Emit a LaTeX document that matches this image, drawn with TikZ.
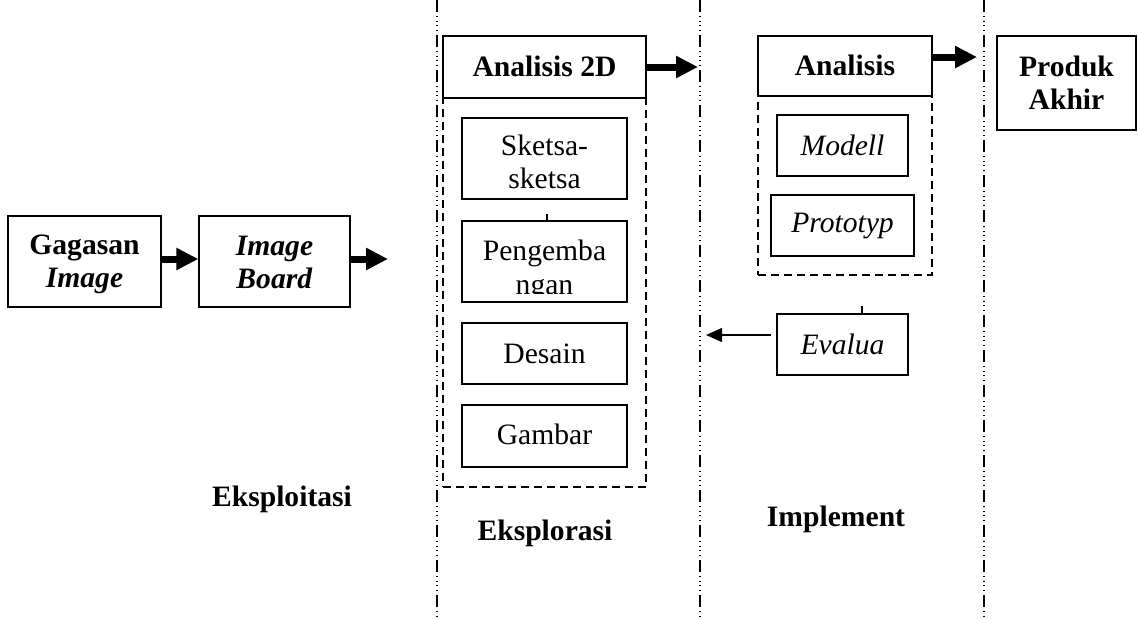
\documentclass[tikz,border=0pt]{standalone}
\usepackage{fontspec}
\setmainfont{Liberation Serif}
\usetikzlibrary{arrows.meta,fit}
\begin{document}
\begin{tikzpicture}[x=0.5pt,y=-0.5pt,
  every node/.style={font=\fontsize{14.8pt}{16.6pt}\selectfont, align=center, inner sep=0pt},
  box/.style={draw, line width=0.7pt},
  cont/.style={draw, line width=0.7pt, dash pattern=on 4pt off 2.5pt},
  divider/.style={line width=0.75pt, dash pattern=on 6pt off 1.9pt on 0.5pt off 1.9pt on 0.5pt off 1.9pt on 0.5pt off 1.9pt on 0.5pt off 1.9pt},
  bigarrow/.style={line width=3.5pt, -{Triangle[length=11pt,width=10.5pt]}},
  thinarrow/.style={line width=0.6pt, -{Triangle[length=8pt,width=7pt]}},
  phase/.style={font=\fontsize{14.8pt}{16.6pt}\selectfont\bfseries, anchor=base},
]
\useasboundingbox (0,0) rectangle (1138,618);

% dividers
\coordinate (d1t) at (437,0);   \coordinate (d1b) at (437,618);
\coordinate (d2t) at (700,0);   \coordinate (d2b) at (700,618);
\coordinate (d3t) at (984,0);   \coordinate (d3b) at (984,618);
\draw[divider] (d1t) -- (d1b);
\draw[divider] (d2t) -- (d2b);
\draw[divider] (d3t) -- (d3b);

% dashed containers
\node[cont, fit={(443,98) (646,487)}] (c2d) {};
\node[cont, fit={(758,96) (932,275)}] (cana) {};

% Eksploitasi column
\node[box, fit={(8,216) (161,307)}] (gag) {};
\node at (gag.center) [yshift=-1.5pt] (gagt) {\textbf{Gagasan}\\\textbf{\textit{Image}}};
\node[box, fit={(199,216) (350,307)}] (img) {};
\node at (img.center) [yshift=-0.5pt] (imgt) {\textbf{\textit{Image}}\\\textbf{\textit{Board}}};

% Eksplorasi column
\node[box, fill=white, fit={(443,36) (646,98)}] (a2d) {};
\node at (a2d.center) [yshift=0.5pt] (a2dt) {\textbf{Analisis 2D}};
\node[box, fit={(462,118) (627,199)}] (ske) {};
\node at (ske.center) [yshift=-1.5pt] (sket) {Sketsa-\\sketsa};
\node[box, fit={(462,221) (627,302)}] (pen) {};
\begin{scope}
  \clip (462,221) rectangle (627,293);
  \node at (pen.center) [yshift=-4.5pt] (pent) {Pengemba\\ngan};
\end{scope}
\node[box, fit={(462,323) (627,384)}] (des) {};
\node at (des.center) (dest) {Desain};
\node[box, fit={(462,405) (627,467)}] (gam) {};
\node at (gam.center) [yshift=1pt] (gamt) {Gambar};

% Implement column
\node[box, fill=white, fit={(758,36) (932,96)}] (ana) {};
\node at (ana.center) [yshift=0.5pt] (anat) {\textbf{Analisis}};
\node[box, fit={(777,115) (908,176)}] (mod) {};
\node at (mod.center) (modt) {\textit{Modell}};
\node[box, fit={(771,195) (914,256)}] (pro) {};
\node at (pro.center) (prot) {\textit{Prototyp}};
\node[box, fit={(777,314) (908,375)}] (eva) {};
\node at (eva.center) (evat) {\textit{Evalua}};

% Produk
\node[box, fit={(997,36) (1136,130)}] (prd) {};
\node at (prd.center) (prdt) {\textbf{Produk}\\\textbf{Akhir}};

% phase labels
\node[phase] (lab1) at (282,506.5) {Eksploitasi};
\node[phase] (lab2) at (545,540) {Eksplorasi};
\node[phase] (lab3) at (836,526) {Implement};

% arrows
\coordinate (e1) at (388,259);
\coordinate (e2) at (698,67);
\coordinate (e3) at (977,57);
\coordinate (fb) at (706,335);
\draw[bigarrow] (gag.east |- 0,259) -- (img.west |- 0,259);
\draw[bigarrow] (img.east |- e1) -- (e1);
\draw[bigarrow] (a2d.east |- e2) -- (e2);
\draw[bigarrow] (ana.east |- e3) -- (e3);
\draw[thinarrow] (eva.west |- fb) ++(-5,0) -- (fb);

% small ticks
\draw[line width=0.6pt] (pen.north -| 547,0) -- ++(0,-6);
\draw[line width=0.6pt] (eva.north -| 862,0) -- ++(0,-7);
\end{tikzpicture}
\end{document}
